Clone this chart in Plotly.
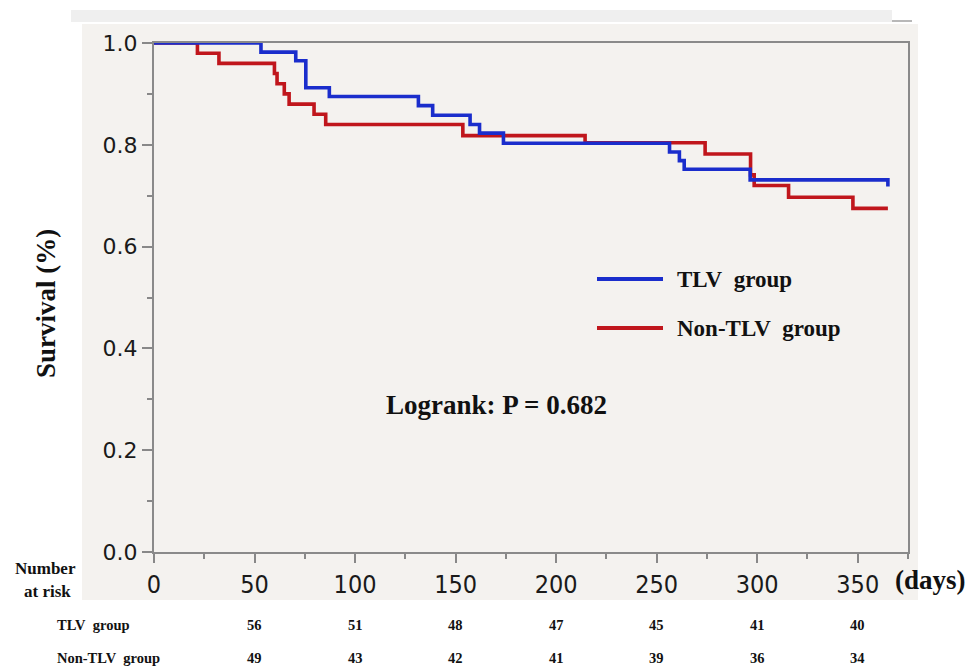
import plotly.graph_objects as go

# ---- data ----
tlv_days = [0, 53.2, 70.5, 75.5, 87.2, 131.5, 138.6, 157.2, 161.9, 173.8,
            256.4, 261.3, 263.7, 296.5, 365]
tlv_surv = [1.0, 0.982, 0.965, 0.912, 0.895, 0.877, 0.858, 0.840, 0.823, 0.803,
            0.786, 0.769, 0.752, 0.731, 0.718]

non_days = [0, 21.6, 32.3, 59.9, 61.2, 64.8, 67.2, 79.6, 85.4, 153.6,
            214.4, 274.1, 296.7, 298.5, 315.6, 347.6, 365]
non_surv = [1.0, 0.980, 0.960, 0.940, 0.920, 0.900, 0.880, 0.860, 0.840, 0.818,
            0.804, 0.782, 0.741, 0.720, 0.697, 0.675, 0.675]

risk_days = [50, 100, 150, 200, 250, 300, 350]
tlv_risk = [56, 51, 48, 47, 45, 41, 40]
non_risk = [49, 43, 42, 41, 39, 36, 34]

x_ticks = [0, 50, 100, 150, 200, 250, 300, 350]
y_ticks = [0.0, 0.2, 0.4, 0.6, 0.8, 1.0]

BLUE = "#1a2dcc"
RED = "#c0161c"
SERIF = "Liberation Serif, Times New Roman, serif"
SANS = "DejaVu Sans, Verdana, sans-serif"
NARROW = "DejaVu Sans Condensed, Liberation Sans Narrow, DejaVu Sans, sans-serif"

fig = go.Figure()
fig.add_trace(go.Scatter(x=non_days, y=non_surv, mode="lines",
                         line=dict(color=RED, width=3.6, shape="hv"),
                         name="Non-TLV group", showlegend=False))
fig.add_trace(go.Scatter(x=tlv_days, y=tlv_surv, mode="lines",
                         line=dict(color=BLUE, width=3.6, shape="hv"),
                         name="TLV group", showlegend=False))

# plot geometry in px (for paper-coordinate decorations)
L, R, T, B = 154, 908, 43, 552
W, H = R - L, B - T
def px(xp):
    return (xp - L) / W
def py(yp):
    return (B - yp) / H

shapes = [
    dict(type="rect", xref="paper", yref="paper", layer="below",
         x0=px(82), x1=px(918), y0=py(600), y1=py(24),
         fillcolor="#f4f2ef", line=dict(width=0)),
    dict(type="rect", xref="paper", yref="paper", layer="below",
         x0=px(71), x1=px(892), y0=py(22), y1=py(10),
         fillcolor="#efefef", line=dict(width=0)),
    dict(type="line", xref="paper", yref="paper", layer="below",
         x0=px(892), x1=px(912), y0=py(21), y1=py(21),
         line=dict(color="#b8b8b8", width=2)),
    dict(type="line", xref="paper", yref="paper",
         x0=px(597), x1=px(663), y0=py(279), y1=py(279),
         line=dict(color=BLUE, width=4)),
    dict(type="line", xref="paper", yref="paper",
         x0=px(597), x1=px(663), y0=py(328), y1=py(328),
         line=dict(color=RED, width=4)),
]

def b(s):
    return "<b>" + s + "</b>"

ann = [
    dict(text=b("TLV\u00a0 group"), x=px(675), y=py(279), xanchor="left", yanchor="middle",
         font=dict(family=SERIF, size=23, color="#111"), showarrow=False),
    dict(text=b("Non-TLV\u00a0 group"), x=px(675), y=py(328), xanchor="left", yanchor="middle",
         font=dict(family=SERIF, size=23, color="#111"), showarrow=False),
    dict(text=b("Logrank: P = 0.682"), x=px(496), y=py(405), xanchor="center", yanchor="middle",
         font=dict(family=SERIF, size=27, color="#111"), showarrow=False),
    dict(text=b("Survival (%)"), x=px(46), y=py(303), textangle=-90,
         xanchor="center", yanchor="middle",
         font=dict(family=SERIF, size=27, color="#111"), showarrow=False),
    dict(text=b("(days)"), x=px(930), y=py(580), xanchor="center", yanchor="middle",
         font=dict(family=SERIF, size=27, color="#111"), showarrow=False),
    dict(text=b("Number"), x=px(45), y=py(568), xanchor="center", yanchor="middle",
         font=dict(family=SERIF, size=17, color="#111"), showarrow=False),
    dict(text=b("at risk"), x=px(47), y=py(591), xanchor="center", yanchor="middle",
         font=dict(family=SERIF, size=17, color="#111"), showarrow=False),
    dict(text=b("TLV\u00a0 group"), x=px(55), y=py(625), xanchor="left", yanchor="middle",
         font=dict(family=SERIF, size=14.5, color="#111"), showarrow=False),
    dict(text=b("Non-TLV\u00a0 group"), x=px(55), y=py(658), xanchor="left", yanchor="middle",
         font=dict(family=SERIF, size=14.5, color="#111"), showarrow=False),
]
for d, n in zip(risk_days, tlv_risk):
    ann.append(dict(text=b(str(n)), x=d, xref="x", y=py(625), yref="paper",
                    xanchor="center", yanchor="middle", showarrow=False,
                    font=dict(family=SERIF, size=14.5, color="#111")))
for d, n in zip(risk_days, non_risk):
    ann.append(dict(text=b(str(n)), x=d, xref="x", y=py(658), yref="paper",
                    xanchor="center", yanchor="middle", showarrow=False,
                    font=dict(family=SERIF, size=14.5, color="#111")))
for a in ann:
    a.setdefault("xref", "paper")
    a.setdefault("yref", "paper")

fig.update_layout(
    width=975, height=668,
    margin=dict(l=L, r=975 - R, t=T, b=668 - B),
    paper_bgcolor="white", plot_bgcolor="white",
    shapes=shapes, annotations=ann, showlegend=False,
    xaxis=dict(range=[0, 375], tickvals=x_ticks, ticktext=[str(v) for v in x_ticks],
               ticks="outside", ticklen=9, tickwidth=1.5, tickcolor="#888",
               minor=dict(dtick=25, tick0=0, ticks="outside", ticklen=5,
                          tickwidth=1.5, tickcolor="#888"),
               showline=True, linecolor="#8a8a8a", linewidth=2, mirror=True,
               showgrid=False, zeroline=False,
               tickfont=dict(family=NARROW, size=25, color="#1a1a1a")),
    yaxis=dict(range=[0, 1], tickvals=y_ticks, ticktext=["%.1f" % v for v in y_ticks],
               ticks="outside", ticklen=10, tickwidth=1.5, tickcolor="#888",
               minor=dict(dtick=0.1, tick0=0, ticks="outside", ticklen=5,
                          tickwidth=1.5, tickcolor="#888"),
               showline=True, linecolor="#8a8a8a", linewidth=2, mirror=True,
               showgrid=False, zeroline=False,
               tickfont=dict(family=SANS, size=22, color="#1a1a1a")),
)

fig.write_html("out.html")
